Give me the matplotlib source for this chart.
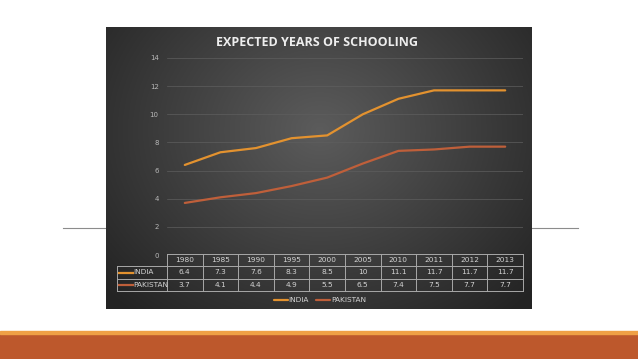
import numpy as np
import matplotlib.pyplot as plt

# datos
years = ['1980', '1985', '1990', '1995', '2000', '2005', '2010', '2011', '2012', '2013']
india = [6.4, 7.3, 7.6, 8.3, 8.5, 10, 11.1, 11.7, 11.7, 11.7]
pakistan = [3.7, 4.1, 4.4, 4.9, 5.5, 6.5, 7.4, 7.5, 7.7, 7.7]
series_names = ['INDIA', 'PAKISTAN']
series_colors = ['#E3922F', '#BF5F3A']

W, H = 638, 359
fig = plt.figure(figsize=(W / 100, H / 100), dpi=100)
fig.patch.set_facecolor('white')

# capa de fondo en pixeles
bg = fig.add_axes([0, 0, 1, 1])
bg.set_xlim(0, W)
bg.set_ylim(H, 0)
bg.axis('off')

# linea gris de la diapositiva
bg.plot([63, 578], [228, 228], color='#8c8c8c', lw=0.8, zorder=1)

# banda naranja inferior
bg.add_patch(plt.Rectangle((0, 334), W, 25, color='#BD582C', zorder=1))
bg.add_patch(plt.Rectangle((0, 331), W, 3, color='#EFA045', zorder=1))

# fondo del grafico con degradado radial
cx0, cx1, cy0, cy1 = 106, 532, 27, 309
gx, gy = np.meshgrid(np.linspace(cx0, cx1, 300), np.linspace(cy0, cy1, 200))
r = np.sqrt(((gx - 320) / 260) ** 2 + ((gy - 130) / 220) ** 2)
g = np.clip(0.36 - 0.20 * r, 0.14, 0.36)
img = np.dstack([g, g, g])
bg.imshow(img, extent=[cx0, cx1, cy1, cy0], aspect='auto', zorder=2)

# titulo
bg.text(317, 42, 'EXPECTED YEARS OF SCHOOLING', color='#eeeeee', fontsize=9,
        fontweight='bold', family='Open Sans', ha='center', va='center', zorder=5)

# ejes principales
x0, x1 = 167, 523
y14, y0 = 58, 255
ax = fig.add_axes([x0 / W, 1 - y0 / H, (x1 - x0) / W, (y0 - y14) / H])
ax.set_facecolor('none')
ax.set_zorder(3)
x = np.arange(len(years))
for vals, name, col in zip([india, pakistan], series_names, series_colors):
    ax.plot(x, vals, color=col, lw=1.6, label=name, solid_capstyle='round')
ax.set_xlim(-0.5, len(years) - 0.5)
ax.set_ylim(0, 14)
ax.set_yticks(range(0, 15, 2))
ax.set_xticks([])
ax.tick_params(axis='y', length=0, labelsize=5, labelcolor='#b8b8b8', pad=6)
ax.grid(axis='y', color='#5e5e5e', lw=0.5)
ax.set_axisbelow(True)
for s in ax.spines.values():
    s.set_visible(False)

# tabla de datos
col_w = (x1 - x0) / len(years)
rows = [254, 266, 279, 291]
lab_x = 117
lc = '#a8a8a8'
tc = '#d4d4d4'
bg.plot([x0, x1], [rows[0], rows[0]], color=lc, lw=0.7, zorder=4)
for yy in rows[1:]:
    bg.plot([lab_x, x1], [yy, yy], color=lc, lw=0.7, zorder=4)
bg.plot([lab_x, lab_x], [rows[1], rows[3]], color=lc, lw=0.7, zorder=4)
for i in range(len(years) + 1):
    bg.plot([x0 + i * col_w] * 2, [rows[0], rows[3]], color=lc, lw=0.7, zorder=4)
for i, yr in enumerate(years):
    cx = x0 + (i + 0.5) * col_w
    bg.text(cx, (rows[0] + rows[1]) / 2, yr, color=tc, fontsize=5.3, ha='center', va='center', zorder=5)
    bg.text(cx, (rows[1] + rows[2]) / 2, f'{india[i]:g}', color=tc, fontsize=5.3, ha='center', va='center', zorder=5)
    bg.text(cx, (rows[2] + rows[3]) / 2, f'{pakistan[i]:g}', color=tc, fontsize=5.3, ha='center', va='center', zorder=5)
for j, (name, col) in enumerate(zip(series_names, series_colors)):
    cy = (rows[j + 1] + rows[j + 2]) / 2
    bg.plot([119, 133], [cy, cy], color=col, lw=1.6, zorder=5)
    bg.text(133, cy, name, color=tc, fontsize=5.3, ha='left', va='center', zorder=5)

# leyenda
leg = ax.legend(loc='center', bbox_to_anchor=(320 / W, 1 - 300 / H), bbox_transform=fig.transFigure,
                ncol=2, frameon=False, fontsize=5.3, handlelength=1.9, handletextpad=0.1,
                columnspacing=1.0, labelcolor=tc)

fig.savefig('out.png', dpi=100)
